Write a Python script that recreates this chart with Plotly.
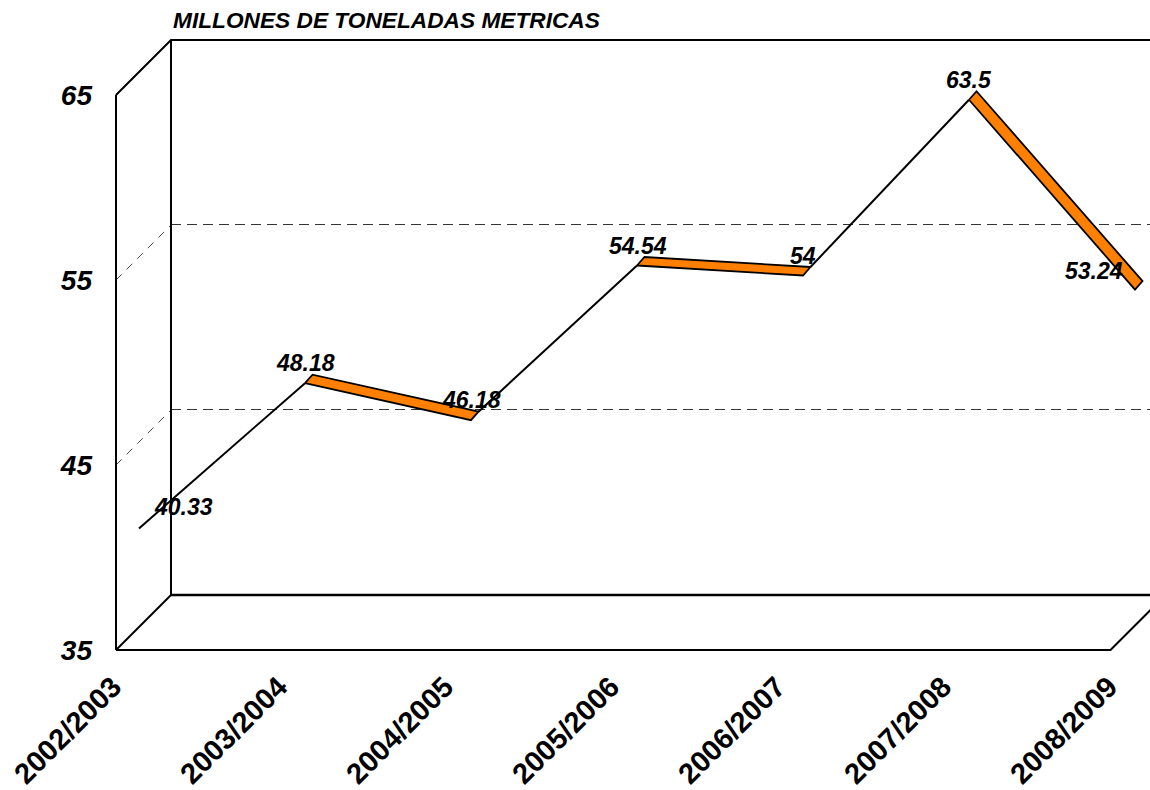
import plotly.graph_objects as go

categories = ["2002/2003", "2003/2004", "2004/2005", "2005/2006", "2006/2007", "2007/2008", "2008/2009"]
values = [40.33, 48.18, 46.18, 54.54, 54, 63.5, 53.24]
value_labels = ["40.33", "48.18", "46.18", "54.54", "54", "63.5", "53.24"]
y_ticks = [35, 45, 55, 65]
grid_values = [45, 55]
title_text = "MILLONES DE TONELADAS METRICAS"

ORANGE = "#FF8000"
FONT = "Liberation Sans"
PX_X = 166.0   # pixels per category
PX_Y = 18.5    # pixels per value unit
LEFT, BOTTOM, W, H = 116, 650, 1150, 790
PAD = 4        # spare room so the box edges are not clipped
WALL = 55      # depth of the box, px
RIB_F, RIB_B = (23, 23), (30.5, 31.5)  # ribbon front/back depth offsets, px
X_MAX = (W - LEFT) / PX_X
Y_MAX = 35 + (BOTTOM - 30) / PX_Y


def px(i, dx):
    return i + dx / PX_X


def py(v, dy):
    return v + dy / PX_Y


def line(xs, ys, width=2, color="black", dash=None):
    return go.Scatter(x=xs, y=ys, mode="lines", hoverinfo="skip", showlegend=False,
                      line=dict(color=color, width=width, dash=dash))


last = len(categories) - 1
x_wall_end = X_MAX
fig = go.Figure()

# gridlines: left-wall diagonal and back wall
for g in grid_values:
    fig.add_trace(line([0, px(0, WALL)], [g, py(g, WALL)], width=0.8, color="#222222", dash="8px,7px"))
    fig.add_trace(line([px(0, WALL), x_wall_end], [py(g, WALL + 0.5), py(g, WALL + 0.5)], width=1, color="#333333",
                       dash="10px,6px"))

# box
top = y_ticks[-1]
bot = y_ticks[0]
fig.add_trace(line([0, 0], [bot, top]))
fig.add_trace(line([0, px(0, WALL), x_wall_end], [top, py(top, WALL), py(top, WALL)]))
fig.add_trace(line([px(0, WALL), px(0, WALL)], [py(top, WALL), py(bot, WALL)]))
fig.add_trace(line([0, px(0, WALL)], [bot, py(bot, WALL)]))
fig.add_trace(line([px(0, WALL), x_wall_end], [py(bot, WALL), py(bot, WALL)], width=2.4))
floor_end = (1110.5 - LEFT) / PX_X
fig.add_trace(line([0, floor_end, px(floor_end, WALL)], [bot, bot, py(bot, WALL)]))

# ribbon: falling segments show their top face, rising ones are seen edge-on
rx, ry, ex, ey = [], [], [], []
for i in range(last):
    if values[i + 1] < values[i]:
        rx += [px(i, RIB_F[0]), px(i + 1, RIB_F[0]), px(i + 1, RIB_B[0]), px(i, RIB_B[0]), px(i, RIB_F[0]), None]
        ry += [py(values[i], RIB_F[1]), py(values[i + 1], RIB_F[1]), py(values[i + 1], RIB_B[1]),
               py(values[i], RIB_B[1]), py(values[i], RIB_F[1]), None]
    else:
        start = RIB_F if i == 0 else RIB_B
        ex += [px(i, start[0]), px(i + 1, RIB_F[0]), None]
        ey += [py(values[i], start[1]), py(values[i + 1], RIB_F[1]), None]
fig.add_trace(line(ex, ey, width=2))
fig.add_trace(go.Scatter(x=rx, y=ry, mode="lines", fill="toself", fillcolor=ORANGE,
                         line=dict(color="black", width=1.8), hoverinfo="skip", showlegend=False))

# value labels
label_shift = {0: (44, -21), 3: (1, -20), last: (-41, -19)}
annotations = []
for i, (v, t) in enumerate(zip(values, value_labels)):
    sx, sy = label_shift.get(i, (0, -20))
    annotations.append(dict(x=px(i, RIB_F[0]), y=py(v, RIB_F[1]), xref="x", yref="y", text=f"<b><i>{t}</i></b>",
                            showarrow=False, xshift=sx, yshift=-sy,
                            font=dict(family=FONT, size=23, color="black")))

fig.update_layout(
    width=W, height=H, autosize=False, paper_bgcolor="white", plot_bgcolor="white",
    margin=dict(l=LEFT - PAD, r=0, t=30, b=H - BOTTOM - PAD, pad=0), showlegend=False,
    annotations=annotations,
    title=dict(text=f"<b><i>{title_text}</i></b>", x=173 / W, y=1 - 20 / H, xref="container", yref="container",
               xanchor="left", yanchor="middle", font=dict(family=FONT, size=22.7, color="black")),
    xaxis=dict(range=[-PAD / PX_X, X_MAX], tickmode="array", tickvals=list(range(len(categories))), ticktext=categories,
               tickangle=-45, showgrid=False, zeroline=False, showline=False, ticks="", ticklabelstandoff=9,
               ticklabelshift=-3,
               tickfont=dict(family=FONT, size=29, color="black", weight="bold")),
    yaxis=dict(range=[35 - PAD / PX_Y, Y_MAX], tickmode="array", tickvals=y_ticks, showgrid=False, zeroline=False,
               showline=False, ticks="", ticklabelstandoff=19,
               tickfont=dict(family=FONT, size=28, color="black", weight="bold", style="italic")),
)
fig.write_html("out.html", post_script="document.body.style.margin='0';", config={"displayModeBar": False})
